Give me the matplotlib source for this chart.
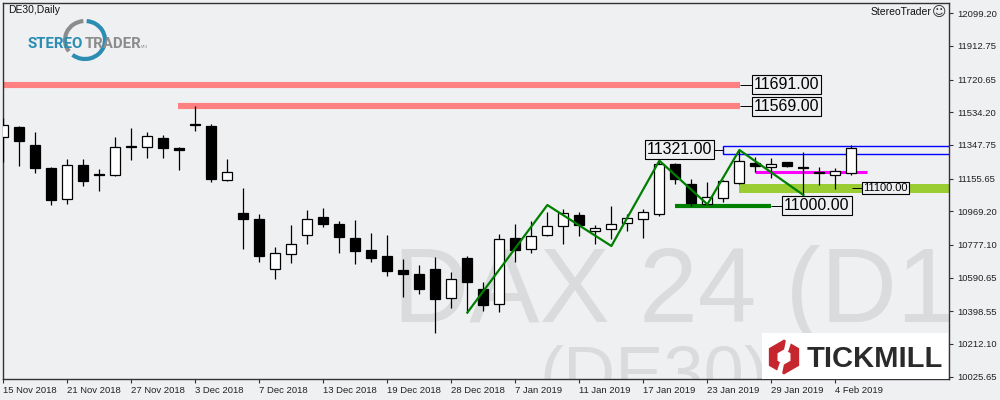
import numpy as np
import matplotlib.pyplot as plt
from matplotlib.patches import Rectangle, Arc, RegularPolygon, Polygon

# DE30 daily candles, 15 Nov 2018 - 5 Feb 2019
opens  = [11395, 11450, 11348, 11216, 11038, 11234, 11178, 11175, 11336, 11338,
          11388, 11331, 11460, 11456, 11150, 10960, 10925, 10638, 10724, 10832,
          10937, 10897, 10817, 10749, 10714, 10635, 10612, 10638, 10473, 10701,
          10526, 10442, 10817, 10753, 10833, 10884, 10947, 10855, 10867, 10901,
          10924, 10954, 11239, 11127, 11009, 11047, 11131, 11247, 11222, 11251,
          11219, 11192, 11175, 11190]
highs  = [11504, 11455, 11422, 11222, 11268, 11268, 11211, 11393, 11445, 11422,
          11405, 11335, 11570, 11466, 11268, 11102, 10954, 10766, 10891, 10977,
          10988, 10912, 10920, 10846, 10834, 10697, 10663, 10707, 10621, 10713,
          10566, 10840, 10897, 10916, 10965, 10983, 10965, 10890, 11000, 10954,
          10983, 11260, 11245, 11152, 11135, 11145, 11321, 11278, 11274, 11253,
          11310, 11224, 11215, 11349]
lows   = [11252, 11230, 11190, 11007, 11013, 11116, 11087, 11172, 11264, 11275,
          11275, 11207, 11429, 11137, 11144, 10756, 10682, 10585, 10676, 10784,
          10882, 10733, 10670, 10682, 10602, 10482, 10499, 10277, 10416, 10391,
          10402, 10395, 10682, 10733, 10830, 10785, 10830, 10785, 10810, 10859,
          10819, 10941, 11124, 11001, 11005, 11021, 11127, 11195, 11161, 11220,
          11057, 11118, 11098, 11175]
closes = [11462, 11372, 11218, 11036, 11232, 11144, 11175, 11335, 11340, 11397,
          11332, 11318, 11463, 11155, 11194, 10927, 10716, 10731, 10783, 10924,
          10899, 10825, 10745, 10705, 10631, 10613, 10528, 10467, 10581, 10568,
          10437, 10810, 10750, 10827, 10884, 10958, 10893, 10872, 10897, 10930,
          10965, 11239, 11152, 11019, 11053, 11142, 11255, 11228, 11239, 11226,
          11217, 11190, 11198, 11331]

date_labels = ['15 Nov 2018', '21 Nov 2018', '27 Nov 2018', '3 Dec 2018', '7 Dec 2018',
               '13 Dec 2018', '19 Dec 2018', '28 Dec 2018', '7 Jan 2019', '11 Jan 2019',
               '17 Jan 2019', '23 Jan 2019', '29 Jan 2019', '4 Feb 2019']
date_bars = [0, 4, 8, 12, 16, 20, 24, 28, 32, 36, 40, 44, 48, 52]

price_ticks = [12099.20, 11912.75, 11720.65, 11534.20, 11347.75, 11155.65,
               10969.20, 10777.10, 10590.65, 10398.55, 10212.10, 10025.65]

# objects drawn on the chart
resist_levels = [11691.00, 11569.00]
resist_from = [-1, 10.9]
box_top, box_bottom, box_label = 11344, 11298, 11321.00
zone_top, zone_bottom, zone_label = 11125, 11075, 11100.00
magenta_level = 11192
support_level = 11000.00
zz_bars = [29, 34, 38, 41, 44, 46, 50]
zz_prices = [10391, 11005, 10771, 11258, 11009, 11319, 11062]

bg = '#eff0f2'
plt.rcParams['font.family'] = ['Liberation Sans', 'DejaVu Sans']

fig = plt.figure(figsize=(10, 4), dpi=100, facecolor=bg)
ax = fig.add_axes([0.003, 0.0525, 0.946, 0.94])
ax.set_facecolor(bg)
ax.set_xlim(-0.02, 59.1)
ax.set_ylim(10012, 12158)

# watermark
wm = dict(color='#d9dbdc', zorder=0.5, clip_on=True, va='baseline',
          transform=ax.transAxes)
ax.text(0.412, 0.152, 'DAX 24 (D1)', fontsize=76, **wm)
ax.text(0.567, -0.048, '(DE30)', fontsize=52, **wm)

# candles
x = np.arange(len(opens))
o = np.array(opens); c = np.array(closes)
up = c >= o
body_b = np.minimum(o, c)
body_h = np.maximum(np.abs(c - o), 5)
ax.vlines(x, lows, highs, color='black', lw=0.9, zorder=3)
ax.bar(x[up], body_h[up], bottom=body_b[up], width=0.62, color='white',
       edgecolor='black', lw=0.9, zorder=4)
ax.bar(x[~up], body_h[~up], bottom=body_b[~up], width=0.62, color='black',
       edgecolor='black', lw=0.9, zorder=4)

lab = dict(va='center', fontsize=11.5, zorder=8,
           bbox=dict(boxstyle='square,pad=0.12', fc=bg, ec='black', lw=0.8))

# red resistance lines
for lev, x0 in zip(resist_levels, resist_from):
    ax.hlines(lev, x0, 46.05, color='#ff8080', lw=4.4, zorder=2)
    ax.hlines(lev, 46.05, 46.8, color='black', lw=0.7, zorder=2)
    ax.text(46.9, lev, f'{lev:.2f}', ha='left', **lab)

# blue box
ax.add_patch(Rectangle((45.0, box_bottom), 20, box_top - box_bottom, fill=False,
                       ec='#0000ff', lw=1.0, zorder=2))
ax.hlines(box_label, 44.4, 45.0, color='black', lw=0.7, zorder=2)
ax.text(44.3, box_label, f'{box_label:.2f}', ha='right', **lab)

# yellowgreen zone
ax.add_patch(Rectangle((46.0, zone_bottom), 20, zone_top - zone_bottom,
                       fc='#9acd32', ec='none', zorder=1))
ax.hlines(zone_label, 53.05, 53.7, color='black', lw=0.7, zorder=2)
ax.text(53.75, zone_label, f'{zone_label:.2f}', ha='left', va='center', fontsize=8,
        zorder=8, bbox=dict(boxstyle='square,pad=0.1', fc=bg, ec='black', lw=0.8))

# magenta and support lines
ax.hlines(magenta_level, 47.0, 54.0, color='#ff00ff', lw=2.2, zorder=2)
ax.hlines(support_level, 42.0, 48.0, color='#008000', lw=3.0, zorder=2)
ax.hlines(support_level, 48.0, 48.7, color='black', lw=0.7, zorder=2)
ax.text(48.8, support_level, f'{support_level:.2f}', ha='left', **lab)

# zigzag
ax.plot(zz_bars, zz_prices, color='#008000', lw=1.6, zorder=6)

# axes
for s in ax.spines.values():
    s.set_color('#333333')
    s.set_linewidth(1.0)
ax.yaxis.tick_right()
ax.set_yticks(price_ticks)
ax.set_yticklabels([f'{p:.2f}' for p in price_ticks])
ax.set_xticks(date_bars)
ax.set_xticklabels(date_labels, ha='left')
ax.tick_params(axis='both', direction='out', length=3, width=0.8, color='#333333',
               labelsize=6.8, labelcolor='#222222')
ax.tick_params(axis='y', pad=3)
ax.tick_params(axis='x', pad=2)

# header texts
fig.text(0.008, 0.975, 'DE30,Daily', fontsize=7.5, va='center', color='#111111')
fig.text(0.931, 0.97, 'StereoTrader', fontsize=7.5, va='center', ha='right', color='#111111')
fig.text(0.939, 0.97, '\u263a', fontsize=10, va='center', ha='center',
         family='DejaVu Sans', color='#333333')

# StereoTrader logo (inches, origin bottom-left)
inch = fig.dpi_scale_trans
fig.patches.append(Arc((0.85, 3.6), 0.40, 0.38, theta1=95, theta2=215,
                       color='#8c8c8c', lw=3.0, transform=inch, figure=fig))
fig.patches.append(Arc((0.85, 3.6), 0.40, 0.38, theta1=230, theta2=85,
                       color='#2b8db3', lw=3.0, transform=inch, figure=fig))
fig.text(0.028, 0.88, 'STEREO', fontsize=10.8, weight='bold', color='#2b8db3',
         va='baseline', family=['Roboto', 'Liberation Sans'])
fig.text(0.0845, 0.88, 'TRADER', fontsize=10.8, weight='bold', color='#8c8c8c',
         va='baseline', family=['Roboto', 'Liberation Sans'])
fig.text(0.141, 0.881, 'MT4', fontsize=2.5, color='#8c8c8c', va='baseline')

# Tickmill logo
fig.patches.append(Rectangle((0.762, 0.0525), 0.186, 0.115, fc='white', ec='none',
                             transform=fig.transFigure, figure=fig))
fig.patches.append(RegularPolygon((7.84, 0.43), 6, radius=0.175, orientation=0,
                                  fc='#c6262e', ec='none', transform=inch, figure=fig))
fig.patches.append(RegularPolygon((7.84, 0.43), 6, radius=0.075, orientation=0,
                                  fc='white', ec='none', transform=inch, figure=fig))
fig.patches.append(Polygon([(7.86, 0.60), (7.92, 0.60), (7.88, 0.48), (7.84, 0.50)],
                           fc='white', ec='none', transform=inch, figure=fig))
fig.patches.append(Polygon([(7.82, 0.26), (7.76, 0.26), (7.80, 0.38), (7.84, 0.36)],
                           fc='white', ec='none', transform=inch, figure=fig))
fig.text(0.807, 1 - 367 / 400, 'TICKMILL', fontsize=21, weight='bold',
         color='#2a2a2a', va='baseline')

fig.savefig('out.png', dpi=100, facecolor=bg)
